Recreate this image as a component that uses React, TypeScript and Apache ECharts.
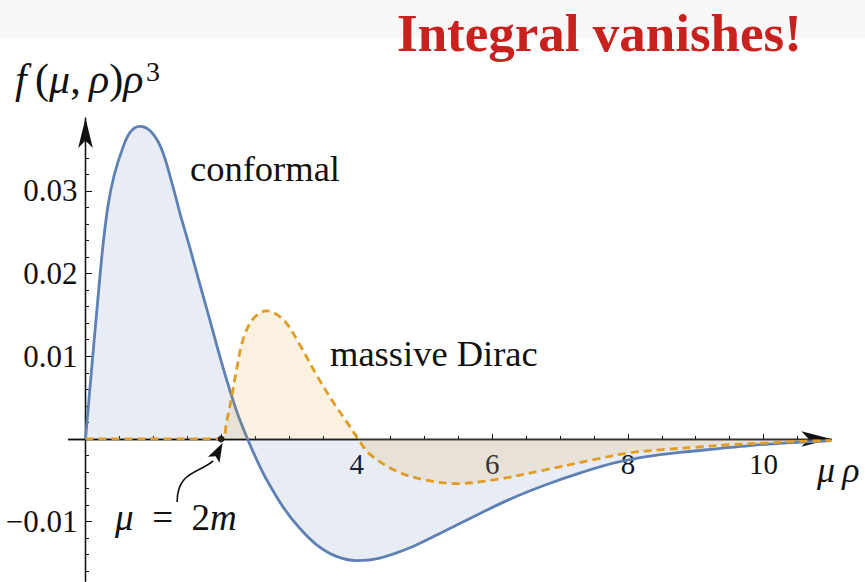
import React, { useEffect, useRef } from "react";
import * as echarts from "echarts";

// Conformal field: f(mu, rho) rho^3 sampled along mu*rho
const conformalX = [
  0, 0.08, 0.165, 0.25, 0.33, 0.42, 0.55, 0.66, 0.8, 0.96, 1.12, 1.27, 1.4, 1.54,
  1.67, 1.81, 1.94, 2.08, 2.24, 2.39, 2.53, 2.67, 2.92, 3.16, 3.41, 3.7, 4.0, 4.34,
  4.83, 5.33, 5.82, 6.31, 6.8, 7.3, 7.8, 8.3, 8.8, 9.3, 9.8, 10.3, 10.8, 11.0,
];
const conformalY = [
  0, 0.0075, 0.0153, 0.0228, 0.0281, 0.0318, 0.0352, 0.0371, 0.0378, 0.0372, 0.0351,
  0.0311, 0.0271, 0.0231, 0.0192, 0.0151, 0.0112, 0.0072, 0.0031, 0, -0.0026, -0.0049,
  -0.0083, -0.0108, -0.0128, -0.0142, -0.0147, -0.0144, -0.013, -0.011, -0.009, -0.0071,
  -0.0055, -0.0041, -0.0029, -0.0021, -0.0016, -0.0012, -0.0008, -0.0005, -0.0003, -0.0002,
];

// Massive Dirac field: vanishes below the threshold mu = 2m
const diracX = [
  0, 2.0, 2.08, 2.16, 2.23, 2.33, 2.48, 2.67, 2.92, 3.16, 3.41, 3.65, 3.85, 4.02, 4.2,
  4.59, 4.98, 5.47, 6.06, 6.8, 7.5, 8.0, 8.5, 9.0, 9.5, 10.0, 10.5, 11.0,
];
const diracY = [
  0, 0, 0.0021, 0.0053, 0.0085, 0.0122, 0.0146, 0.0155, 0.0144, 0.0114, 0.0077, 0.0045,
  0.0021, 0, -0.0019, -0.0039, -0.0049, -0.0054, -0.0049, -0.0037, -0.0025, -0.0017,
  -0.0013, -0.001, -0.0007, -0.0005, -0.0003, -0.0002,
];

// Threshold point mu = 2m on the horizontal axis
const thresholdPoint = [2, 0];

// Ticks and labels
const xMajorTicks = [2, 4, 6, 8, 10];
const xTickLabels = [4, 6, 8, 10];
const xMinorTicks = [0.5, 1, 1.5, 2.5, 3, 3.5, 4.5, 5, 5.5, 6.5, 7, 7.5, 8.5, 9, 9.5, 10.5];
const yMajorTicks = [-0.01, 0.01, 0.02, 0.03];
const yTickLabels = [-0.01, 0.01, 0.02, 0.03];
const yMinorTicks = [
  -0.016, -0.014, -0.012, -0.008, -0.006, -0.004, -0.002, 0.002, 0.004, 0.006, 0.008,
  0.012, 0.014, 0.016, 0.018, 0.022, 0.024, 0.026, 0.028, 0.032, 0.034, 0.036,
];

const X_MIN = -0.25;
const X_MAX = 11.0;
const Y_MIN = -0.0172;
const Y_MAX = 0.0388;

// Plot frame
const W = 865;
const H = 582;
const GRID_LEFT = 68.55;
const GRID_RIGHT = 33.7;
const GRID_TOP = 118.1;
const GRID_BOTTOM = 0.8;
const GRID_W = W - GRID_LEFT - GRID_RIGHT;
const GRID_H = H - GRID_TOP - GRID_BOTTOM;

// Axes cross at the origin: shift them in from the frame edges
const X_AXIS_OFFSET = -((0 - Y_MIN) / (Y_MAX - Y_MIN)) * GRID_H;
const Y_AXIS_OFFSET = -((0 - X_MIN) / (X_MAX - X_MIN)) * GRID_W;

const SERIF = "'Liberation Serif', 'Times New Roman', serif";
const INK = "#111";
const BLUE = "#5E81B5";
const ORANGE = "#E19C24";

const axisLineStyle = { color: INK, width: 1.3 };

function pairs(xs: number[], ys: number[]) {
  return xs.map((x, i) => [x, ys[i]]);
}

function fmtY(v: number) {
  const s = Math.abs(v).toFixed(2);
  return v < 0 ? "\u2212" + s : s;
}

function xAxisDef(ticks: number[], tickLen: number, labels: number[] | null, arrow: boolean) {
  return {
    type: "value",
    min: X_MIN,
    max: X_MAX,
    position: "bottom",
    offset: X_AXIS_OFFSET,
    axisLine: {
      onZero: false,
      lineStyle: axisLineStyle,
      symbol: arrow ? ["none", "arrow"] : "none",
      symbolSize: [11.5, 30],
    },
    axisTick: {
      inside: true,
      length: tickLen,
      lineStyle: { color: INK, width: 1 },
      customValues: ticks,
    },
    axisLabel: labels
      ? { customValues: labels, margin: 11, fontFamily: SERIF, fontSize: 29, color: INK }
      : { show: false },
    splitLine: { show: false },
  };
}

function yAxisDef(ticks: number[], tickLen: number, labels: number[] | null, arrow: boolean) {
  return {
    type: "value",
    min: Y_MIN,
    max: Y_MAX,
    position: "left",
    offset: Y_AXIS_OFFSET,
    axisLine: {
      onZero: false,
      lineStyle: axisLineStyle,
      symbol: arrow ? ["none", "arrow"] : "none",
      symbolSize: [11, 30],
    },
    axisTick: {
      inside: true,
      length: tickLen,
      lineStyle: { color: INK, width: 1 },
      customValues: ticks,
    },
    axisLabel: labels
      ? {
          customValues: labels,
          formatter: (v: number) => fmtY(v),
          margin: 8,
          fontFamily: SERIF,
          fontSize: 31,
          color: INK,
        }
      : { show: false },
    splitLine: { show: false },
  };
}

export default function App() {
  const ref = useRef<HTMLDivElement>(null);

  useEffect(() => {
    const el = ref.current;
    if (!el) return;
    const chart = echarts.init(el, null, { renderer: "svg" });

    chart.setOption({
      animation: false,
      backgroundColor: "#ffffff",
      grid: {
        left: GRID_LEFT,
        right: GRID_RIGHT,
        top: GRID_TOP,
        bottom: GRID_BOTTOM,
        containLabel: false,
        outerBoundsMode: "none",
      },
      xAxis: [
        xAxisDef(xMajorTicks, 5, xTickLabels, true),
        xAxisDef(xMinorTicks, 3, null, false),
      ],
      yAxis: [
        yAxisDef(yMajorTicks, 6.5, yTickLabels, true),
        yAxisDef(yMinorTicks, 3.5, null, false),
      ],
      series: [
        {
          type: "line",
          name: "conformal",
          xAxisIndex: 0,
          yAxisIndex: 0,
          data: pairs(conformalX, conformalY),
          smooth: 0.35,
          showSymbol: false,
          lineStyle: { color: BLUE, width: 2.8 },
          areaStyle: { color: "rgba(94,129,181,0.2)", origin: 0 },
          z: 3,
        },
        {
          type: "line",
          name: "massive Dirac",
          xAxisIndex: 0,
          yAxisIndex: 0,
          data: pairs(diracX, diracY),
          smooth: 0.35,
          showSymbol: false,
          lineStyle: { color: ORANGE, width: 2.8, type: [8, 5] },
          areaStyle: { color: "rgba(225,156,36,0.2)", origin: 0 },
          z: 4,
        },
        {
          type: "scatter",
          xAxisIndex: 0,
          yAxisIndex: 0,
          data: [thresholdPoint],
          symbolSize: 7,
          itemStyle: { color: "#000" },
          z: 6,
        },
      ],
    });

    const [ax, ay] = chart.convertToPixel(
      { xAxisIndex: 0, yAxisIndex: 0 },
      thresholdPoint
    ) as number[];

    // Curved pointer from the "mu = 2m" note to the threshold point
    const tip = [ax + 1.5, ay + 4];
    const tail = [ax - 8, ay + 22];
    const dx = tip[0] - tail[0];
    const dy = tip[1] - tail[1];
    const len = Math.hypot(dx, dy);
    const ux = dx / len;
    const uy = dy / len;
    const headLen = 19;
    const halfW = 6.5;
    const base = [tip[0] - ux * headLen, tip[1] - uy * headLen];
    const notch = [base[0] + ux * 4, base[1] + uy * 4];
    const head = [
      tip,
      [base[0] - uy * halfW, base[1] + ux * halfW],
      notch,
      [base[0] + uy * halfW, base[1] - ux * halfW],
    ];

    chart.setOption({
      graphic: [
        {
          type: "rect",
          silent: true,
          z: -10,
          shape: { x: 0, y: 0, width: W, height: 38 },
          style: { fill: "#f8f8f8" },
        },
        {
          type: "text",
          silent: true,
          x: 397,
          y: 32.5,
          style: {
            text: "Integral vanishes!",
            fontFamily: SERIF,
            fontSize: 53,
            fontWeight: "bold",
            fill: "#c9211e",
            verticalAlign: "middle",
            align: "left",
          },
        },
        {
          type: "text",
          silent: true,
          x: 15,
          y: 79,
          style: {
            text: "{i|f}\u2009({i|\u03bc},\u2009{i|\u03c1}){i|\u03c1}",
            fontFamily: SERIF,
            fontSize: 42,
            fill: INK,
            verticalAlign: "middle",
            align: "left",
            rich: {
              i: { fontFamily: SERIF, fontSize: 42, fontStyle: "italic", fill: INK },
            },
          },
        },
        {
          type: "text",
          silent: true,
          x: 146,
          y: 71,
          style: {
            text: "3",
            fontFamily: SERIF,
            fontSize: 28,
            fill: INK,
            verticalAlign: "middle",
            align: "left",
          },
        },
        {
          type: "text",
          silent: true,
          x: 817,
          y: 470,
          style: {
            text: "\u03bc\u2009\u03c1",
            fontFamily: SERIF,
            fontSize: 36,
            fontStyle: "italic",
            fill: INK,
            verticalAlign: "middle",
            align: "left",
          },
        },
        {
          type: "text",
          silent: true,
          x: 190,
          y: 168,
          style: {
            text: "conformal",
            fontFamily: SERIF,
            fontSize: 36.5,
            fill: INK,
            verticalAlign: "middle",
            align: "left",
          },
        },
        {
          type: "text",
          silent: true,
          x: 330,
          y: 353,
          style: {
            text: "massive Dirac",
            fontFamily: SERIF,
            fontSize: 36.5,
            fill: INK,
            verticalAlign: "middle",
            align: "left",
          },
        },
        {
          type: "text",
          silent: true,
          x: ax - 106,
          y: ay + 79,
          style: {
            text: "{i|\u03bc}\u2002=\u20022{i|m}",
            fontFamily: SERIF,
            fontSize: 37,
            fill: INK,
            verticalAlign: "middle",
            align: "left",
            rich: {
              i: { fontFamily: SERIF, fontSize: 37, fontStyle: "italic", fill: INK },
            },
          },
        },
        {
          type: "bezierCurve",
          silent: true,
          shape: {
            x1: ax - 44,
            y1: ay + 63,
            cpx1: ax - 44,
            cpy1: ay + 32,
            cpx2: ax - 21,
            cpy2: ay + 34,
            x2: tail[0],
            y2: tail[1],
          },
          style: { stroke: INK, lineWidth: 1.6, fill: "none" },
        },
        {
          type: "polygon",
          silent: true,
          shape: { points: head },
          style: { fill: INK },
        },
      ],
    });

    return () => chart.dispose();
  }, []);

  return (
    <div
      ref={ref}
      style={{ position: "fixed", left: 0, top: 0, width: W, height: H, background: "#fff" }}
    />
  );
}
